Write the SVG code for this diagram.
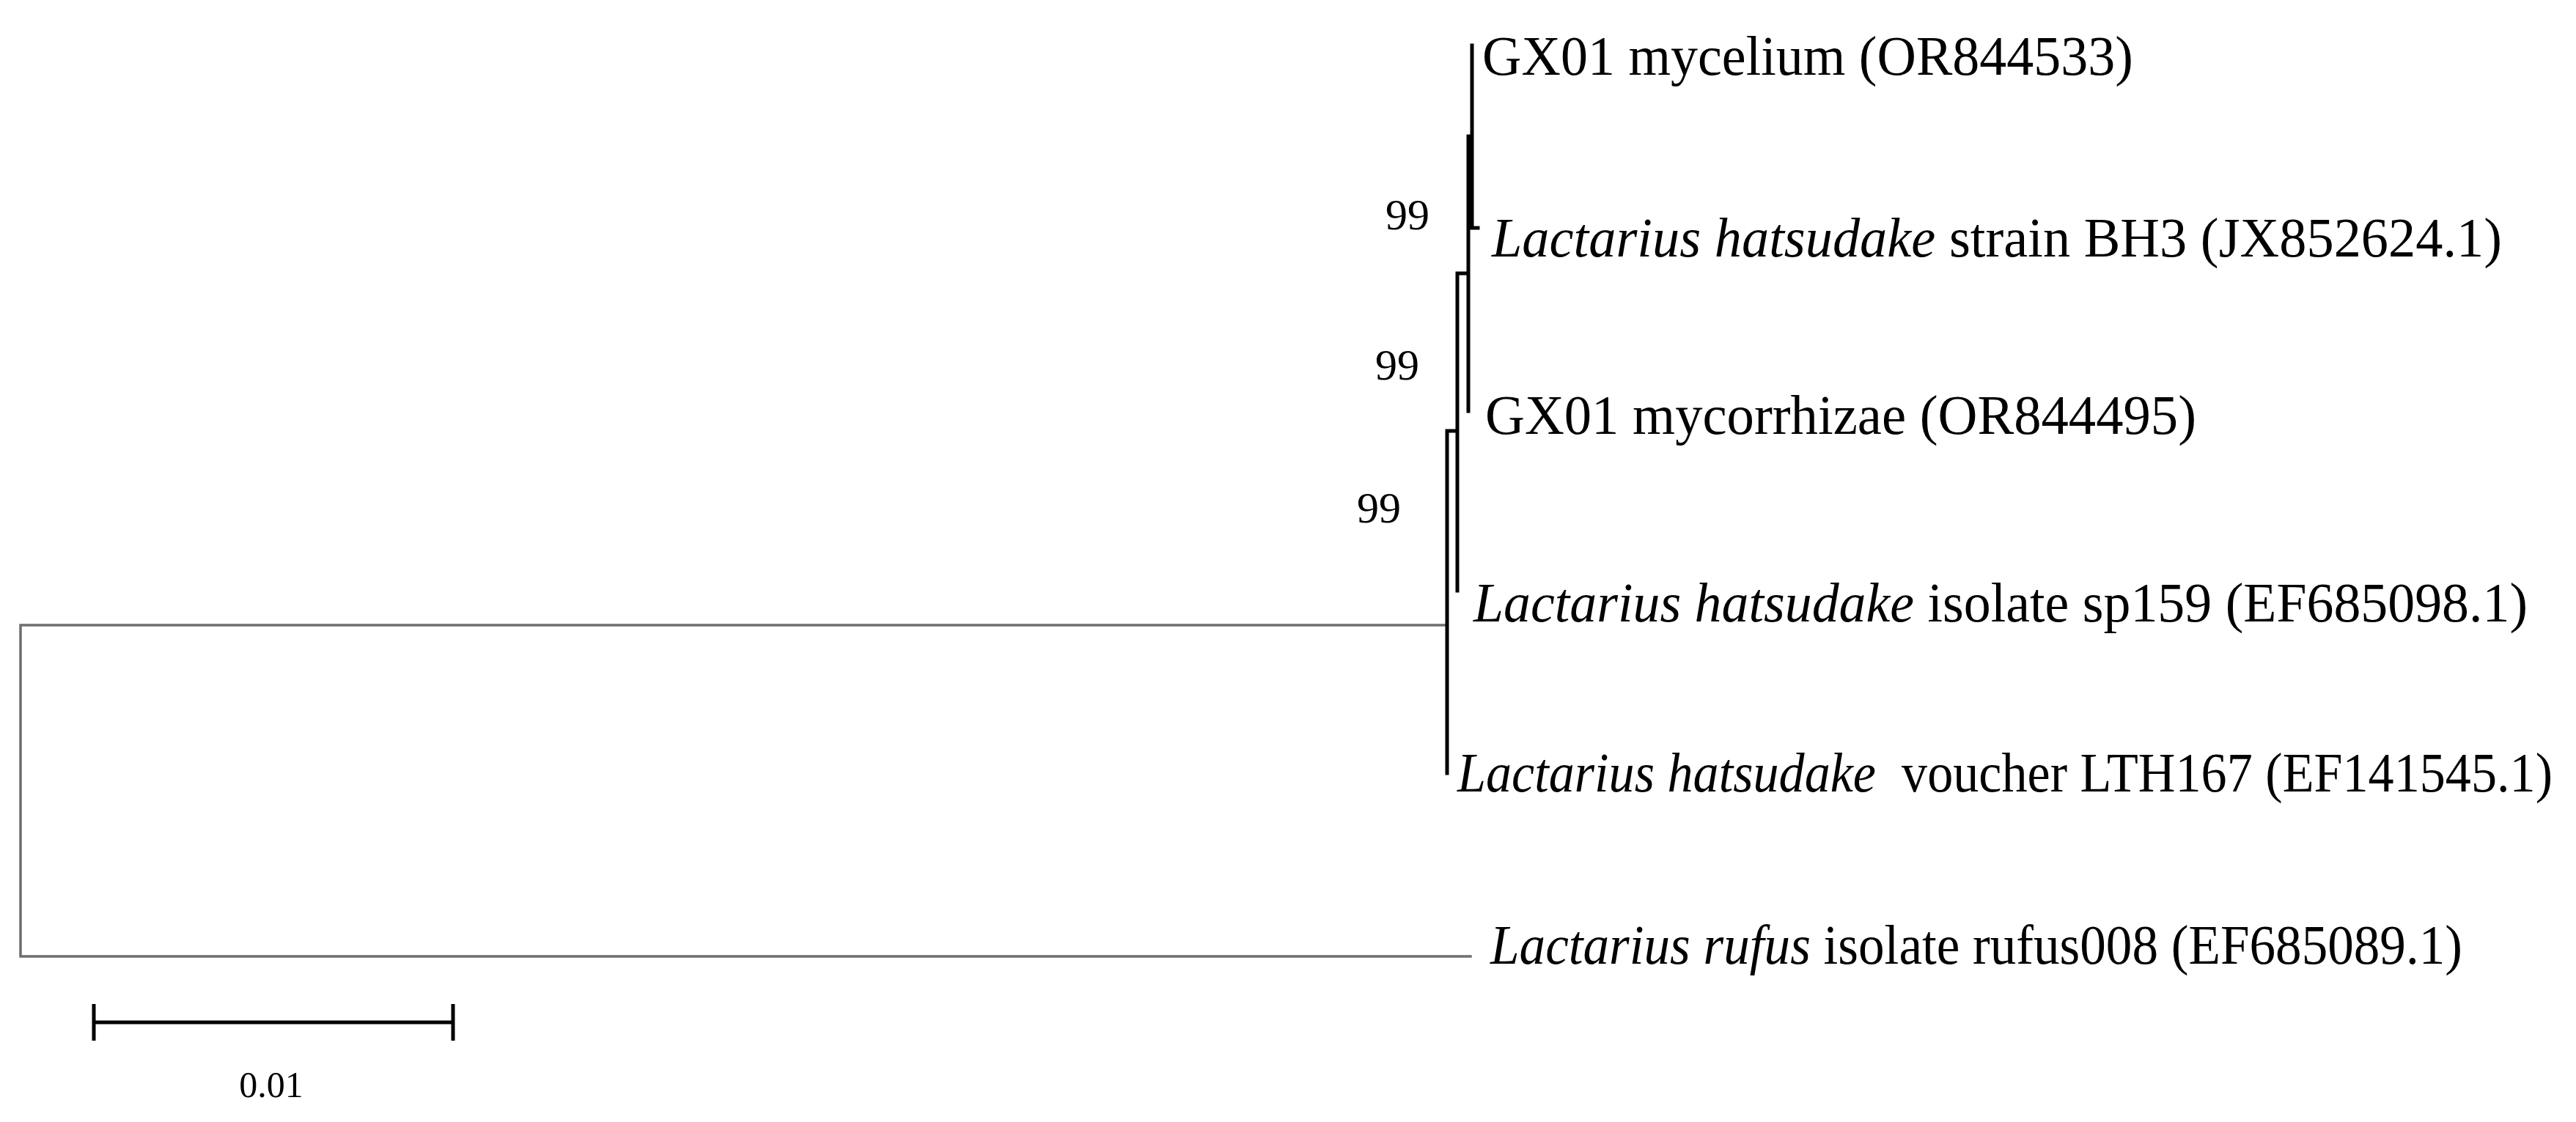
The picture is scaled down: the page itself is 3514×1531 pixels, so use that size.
<svg xmlns="http://www.w3.org/2000/svg" width="3514" height="1531" viewBox="0 0 3514 1531">
<style>
.lbl{font-family:"Liberation Serif","Times New Roman",serif;font-size:76px;fill:#000}
.it{font-style:italic}
.bs{font-family:"Liberation Serif","Times New Roman",serif;font-size:60px;fill:#000}
.br{stroke:#000;stroke-width:5;fill:none;stroke-linecap:square}
.rt{stroke:#6e6e6e;stroke-width:3.5;fill:none;stroke-linecap:square}
</style>
<rect width="3514" height="1531" fill="#fff"/>
<g id="connectors">
<path class="rt" d="M28,853 V1305 M28,853 H1974 M28,1305 H2006"/>
<path class="br" d="M1974,588 V1055 M1974,588 H1988 M1988,373 V806 M1988,373 H2003 M2003,186 V561 M2003,186 H2008 M2008,62 V311 M2008,311 H2016"/>
</g>
<g id="node-gx01-mycelium"><text class="lbl" x="2022" y="102" textLength="888" lengthAdjust="spacingAndGlyphs">GX01 mycelium (OR844533)</text></g>
<g id="node-bh3"><text class="lbl" x="2035" y="350" textLength="1378" lengthAdjust="spacingAndGlyphs"><tspan class="it">Lactarius hatsudake</tspan> strain BH3 (JX852624.1)</text></g>
<g id="node-gx01-mycorrhizae"><text class="lbl" x="2026" y="592" textLength="970" lengthAdjust="spacingAndGlyphs">GX01 mycorrhizae (OR844495)</text></g>
<g id="node-sp159"><text class="lbl" x="2010" y="848" textLength="1438" lengthAdjust="spacingAndGlyphs"><tspan class="it">Lactarius hatsudake</tspan> isolate sp159 (EF685098.1)</text></g>
<g id="node-lth167"><text class="lbl" x="1988" y="1080" textLength="1494" lengthAdjust="spacingAndGlyphs" xml:space="preserve"><tspan class="it">Lactarius hatsudake</tspan>  voucher LTH167 (EF141545.1)</text></g>
<g id="node-rufus"><text class="lbl" x="2033" y="1315" textLength="1326" lengthAdjust="spacingAndGlyphs"><tspan class="it">Lactarius rufus</tspan> isolate rufus008 (EF685089.1)</text></g>
<g id="bootstrap">
<text class="bs" x="1890" y="313">99</text>
<text class="bs" x="1876" y="518">99</text>
<text class="bs" x="1851" y="713">99</text>
</g>
<g id="scale-bar">
<path class="br" style="stroke-linecap:butt" d="M128,1395 H618 M128,1370 V1420 M618,1370 V1420"/>
<text class="bs" style="font-size:50px" x="370" y="1497" text-anchor="middle">0.01</text>
</g>
</svg>
